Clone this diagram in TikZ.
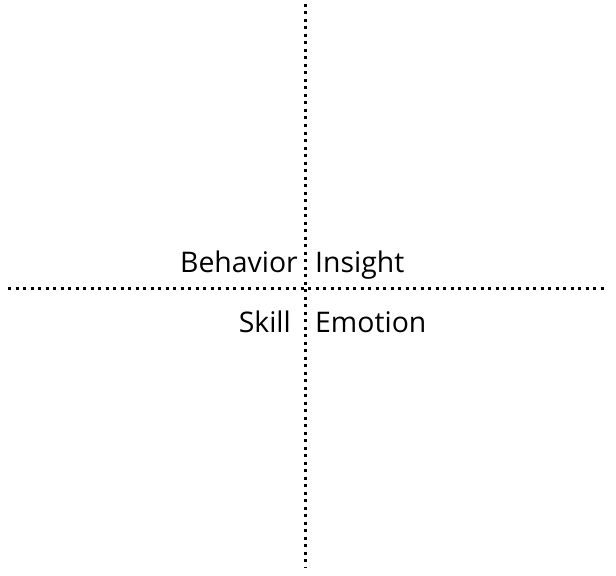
\documentclass[tikz,border=0pt]{standalone}
\usepackage{fontspec}
\setmainfont{Open Sans}
\usetikzlibrary{arrows.meta,calc}

\begin{document}
\begin{tikzpicture}[x=1bp,y=-1bp,
	dotline/.style={line width=3bp,dash pattern=on 3bp off 4.5bp},
	lbl/.style={inner sep=0pt,font=\fontsize{28.5}{33}\selectfont}]
	\useasboundingbox (0,0) rectangle (616,576);
	\coordinate (top) at (305,4);
	\coordinate (bot) at (305,568);
	\coordinate (lft) at (8,288);
	\coordinate (rgt) at (607,288);
	\draw[dotline] (top)--(bot);
	\draw[dotline] (lft)--(rgt);
	\node[lbl,anchor=base east] (behavior) at (298,272) {Behavior};
	\node[lbl,anchor=base west] (insight) at (315,272) {Insight};
	\node[lbl,anchor=base east] (skill) at (291,332) {Skill};
	\node[lbl,anchor=base west] (emotion) at (315,332) {Emotion};
\end{tikzpicture}
\end{document}
